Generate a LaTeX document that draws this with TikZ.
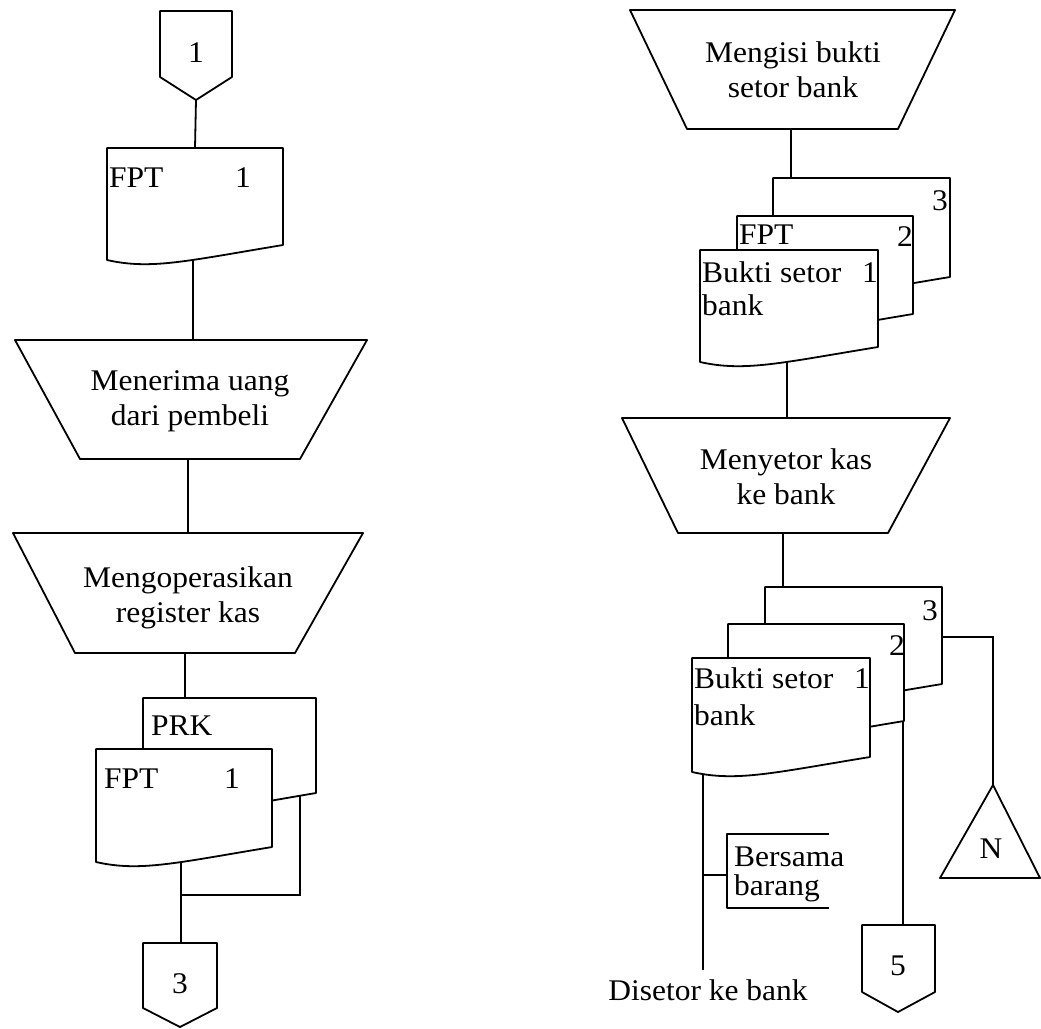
\documentclass[tikz,border=0pt]{standalone}
\usepackage{fontspec}
\setmainfont{Liberation Serif}[FakeStretch=1.05]
\usetikzlibrary{calc}
\pgfdeclarelayer{back}
\pgfsetlayers{back,main}

\tikzset{
  outline/.style={line width=1.8pt, line join=round},
  link/.style={line width=1.8pt},
  lbl/.style={inner sep=0pt, font=\fontsize{30}{35}\selectfont},
  mlbl/.style={lbl, align=center},
}

% document symbol: left x, top y, right x, y of the lower right corner
\newcommand\flowdoc[4]{%
  \pgfmathsetmacro\fdW{#3-#1}%
  \pgfmathsetmacro\fdXa{#1+0.45*\fdW}%
  \pgfmathsetmacro\fdXb{#1+0.25*\fdW}%
  \pgfmathsetmacro\fdYa{#4+16}%
  \pgfmathsetmacro\fdYb{#4+25}%
  \pgfmathsetmacro\fdYc{#4+15}%
  \draw[outline,fill=white] (#1,#2) -- (#3,#2) -- (#3,#4)
     .. controls (\fdXa,\fdYa) and (\fdXb,\fdYb) .. (#1,\fdYc) -- cycle;}

\begin{document}
\begin{tikzpicture}[x=1pt,y=-1pt]
\useasboundingbox (0,0) rectangle (1041,1028);

% ---------------- left column ----------------
\draw[outline,fill=white] (160,11) -- (232,11) -- (232,77) -- (196,100) -- (160,77) -- cycle;
\node[lbl,anchor=base] (c1) at (196,62) {1};
\coordinate (c1-s) at (196,100);

\flowdoc{107}{148}{283}{245}
\node[lbl,anchor=base west] (d1-name) at (109,187) {FPT};
\node[lbl,anchor=base] (d1-no) at (243,187) {1};
\coordinate (d1-n) at (195,148);
\coordinate (d1-s) at (193,250);

\draw[outline,fill=white] (15,340) -- (367,340) -- (300,459) -- (80,459) -- cycle;
\node[mlbl] (t1) at (190,401) {Menerima uang\\dari pembeli};
\coordinate (t1-n) at (193,340);
\coordinate (t1-s) at (188,459);

\draw[outline,fill=white] (13,533) -- (363,533) -- (295,653) -- (75,653) -- cycle;
\node[mlbl] (t2) at (188,598) {Mengoperasikan\\register kas};
\coordinate (t2-n) at (188,533);
\coordinate (t2-s) at (185,653);

\flowdoc{143}{698}{316}{793}
\node[lbl,anchor=base west] (prk) at (151,735) {PRK};
\coordinate (prk-n) at (185,698);
\coordinate (prk-s) at (300,785);

\flowdoc{96}{749}{272}{847}
\node[lbl,anchor=base west] (d2-name) at (104,788) {FPT};
\node[lbl,anchor=base] (d2-no) at (232,788) {1};
\coordinate (d2-s) at (181,850);

\coordinate (j1) at (300,895);
\coordinate (j2) at (181,895);

\draw[outline,fill=white] (143,943) -- (217,943) -- (217,1008) -- (180,1027) -- (143,1008) -- cycle;
\node[lbl,anchor=base] (c3) at (180,993) {3};
\coordinate (c3-n) at (181,943);

% ---------------- right column ----------------
\draw[outline,fill=white] (630,10) -- (955,10) -- (898,129) -- (687,129) -- cycle;
\node[mlbl] (t3) at (793,70) {Mengisi bukti\\setor bank};
\coordinate (t3-s) at (791,129);

\flowdoc{773}{178}{950}{277}
\node[lbl,anchor=base] (a3-no) at (940,210) {3};
\coordinate (a3-n) at (791,178);
\flowdoc{737}{216}{913}{314}
\node[lbl,anchor=base west] (a2-name) at (739,244) {FPT};
\node[lbl,anchor=base] (a2-no) at (905,246) {2};
\flowdoc{700}{250}{878}{347}
\node[lbl,anchor=base west] (a1-name) at (702,282) {Bukti setor};
\node[lbl,anchor=base] (a1-no) at (870,282) {1};
\node[lbl,anchor=base west] (a1-name2) at (702,315) {bank};
\coordinate (a1-s) at (787,350);

\draw[outline,fill=white] (622,418) -- (950,418) -- (888,533) -- (678,533) -- cycle;
\node[mlbl] (t4) at (786,477) {Menyetor kas\\ke bank};
\coordinate (t4-n) at (787,418);
\coordinate (t4-s) at (783,533);

\flowdoc{765}{587}{942}{684}
\node[lbl,anchor=base] (b3-no) at (930,620) {3};
\coordinate (b3-n) at (783,587);
\coordinate (b3-e) at (935,637);
\flowdoc{728}{624}{904}{721}
\node[lbl,anchor=base] (b2-no) at (897,655) {2};
\coordinate (b2-se) at (903,700);
\flowdoc{692}{658}{870}{757}
\node[lbl,anchor=base west] (b1-name) at (694,688) {Bukti setor};
\node[lbl,anchor=base] (b1-no) at (862,688) {1};
\node[lbl,anchor=base west] (b1-name2) at (694,725) {bank};
\coordinate (b1-s) at (703,765);

% note attached to the first copy
\draw[outline] (829,834) -- (727,834) -- (727,908) -- (829,908);
\node[lbl,anchor=base west] (note1) at (734,866) {Bersama};
\node[lbl,anchor=base west] (note2) at (734,895) {barang};
\coordinate (note-w) at (727,875);
\coordinate (b1-tap) at (703,875);
\coordinate (b1-end) at (703,970);
\node[lbl,anchor=base] (dest) at (708,1000) {Disetor ke bank};

% file symbol
\draw[outline,fill=white] (993,785) -- (1040,878) -- (940,878) -- cycle;
\node[lbl,anchor=base] (file) at (991,858) {N};
\coordinate (file-n) at (993,785);
\coordinate (b3-turn) at (993,637);

% off-page connector 5
\draw[outline,fill=white] (862,925) -- (935,925) -- (935,992) -- (898,1012) -- (862,992) -- cycle;
\node[lbl,anchor=base] (c5) at (898,975) {5};
\coordinate (c5-n) at (903,925);

% ---------------- flow lines ----------------
\begin{pgfonlayer}{back}
\draw[link] (c1-s) -- (d1-n);
\draw[link] (d1-s) -- (t1-n);
\draw[link] (t1-s) -- (t2-n);
\draw[link] (t2-s) -- (prk-n);
\draw[link] (prk-s) -- (j1) -- (j2);
\draw[link] (d2-s) -- (c3-n);
\draw[link] (t3-s) -- (a3-n);
\draw[link] (a1-s) -- (t4-n);
\draw[link] (t4-s) -- (b3-n);
\draw[link] (b3-e) -- (b3-turn) -- (file-n);
\draw[link] (b2-se) -- (c5-n);
\draw[link] (b1-s) -- (b1-end);
\draw[link] (b1-tap) -- (note-w);
\end{pgfonlayer}
\end{tikzpicture}
\end{document}
